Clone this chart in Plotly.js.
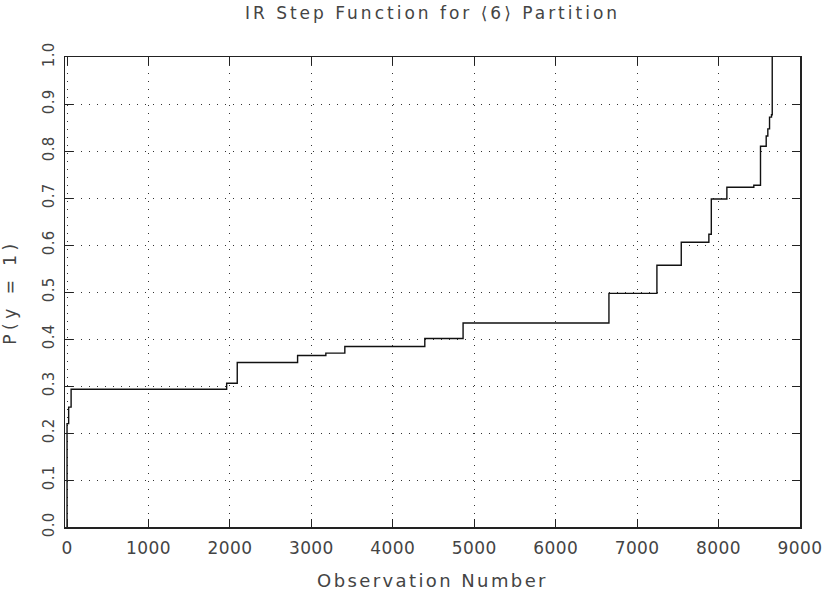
<!DOCTYPE html>
<html>
<head>
<meta charset="utf-8">
<script src="https://cdn.plot.ly/plotly-3.0.1.min.js"></script>
<style>
html,body{margin:0;padding:0;background:#fff;}
#chart{width:823px;height:594px;}
#chart text.gtitle{letter-spacing:3.0px;}
#chart text.xtitle{letter-spacing:2.4px;}
#chart text.ytitle{letter-spacing:4.5px;}
#chart .xtick text{letter-spacing:0.4px;}
#chart .ytick text{letter-spacing:0.3px;}
</style>
</head>
<body>
<div id="chart"></div>
<script>
// Step function breakpoints (observation number, P(y = 1))
const observation = [0, 0, 20, 50, 1960, 2090, 2831, 3178, 3411, 4393, 4863, 6654, 7243, 7542, 7881, 7911, 8102, 8433, 8515, 8585, 8605, 8626, 8650, 8659];
const probability = [0, 0.22, 0.255, 0.293, 0.306, 0.35, 0.365, 0.37, 0.384, 0.401, 0.434, 0.497, 0.557, 0.606, 0.623, 0.698, 0.723, 0.727, 0.81, 0.832, 0.847, 0.872, 0.877, 1.0];
const xTicks = [0, 1000, 2000, 3000, 4000, 5000, 6000, 7000, 8000, 9000];
const yTicks = [0.0, 0.1, 0.2, 0.3, 0.4, 0.5, 0.6, 0.7, 0.8, 0.9, 1.0];

const fontFam = '"DejaVu Sans", sans-serif';
const txtColor = '#444';

const trace = {
  x: observation,
  y: probability,
  type: 'scatter',
  mode: 'lines',
  line: {shape: 'hv', color: '#111', width: 1.4},
  hoverinfo: 'x+y'
};

const axisCommon = {
  showline: true, linecolor: '#222', linewidth: 1.5, mirror: 'ticks',
  ticks: 'inside', ticklen: 8, tickcolor: '#222', tickwidth: 1,
  showgrid: true, gridcolor: '#333', gridwidth: 1, griddash: '1px,7px',
  zeroline: false
};

const layout = {
  width: 823, height: 594,
  margin: {l: 65, r: 23, t: 57, b: 67},
  paper_bgcolor: '#fff', plot_bgcolor: '#fff',
  showlegend: false,
  title: {text: 'IR Step Function for \u27e86\u27e9 Partition', xref: 'paper', x: 0.5, xanchor: 'center',
          yref: 'container', y: 0.988, yanchor: 'top',
          font: {family: fontFam, size: 17, color: txtColor}},
  xaxis: Object.assign({}, axisCommon, {
    range: [-25, 9000],
    tickvals: xTicks, ticktext: xTicks.map(String),
    tickfont: {family: fontFam, size: 17, color: txtColor},
    ticklabelstandoff: 5,
    title: {text: 'Observation Number', font: {family: fontFam, size: 18, color: txtColor}, standoff: 17}
  }),
  yaxis: Object.assign({}, axisCommon, {
    range: [0, 1],
    tickvals: yTicks, ticktext: yTicks.map(v => v.toFixed(1)),
    tickangle: -90,
    tickfont: {family: fontFam, size: 15, color: txtColor},
    ticklabelstandoff: 4,
    title: {text: 'P(y = 1)', font: {family: fontFam, size: 17, color: txtColor}, standoff: 22}
  })
};

Plotly.newPlot('chart', [trace], layout, {staticPlot: true, displayModeBar: false});
</script>
</body>
</html>
